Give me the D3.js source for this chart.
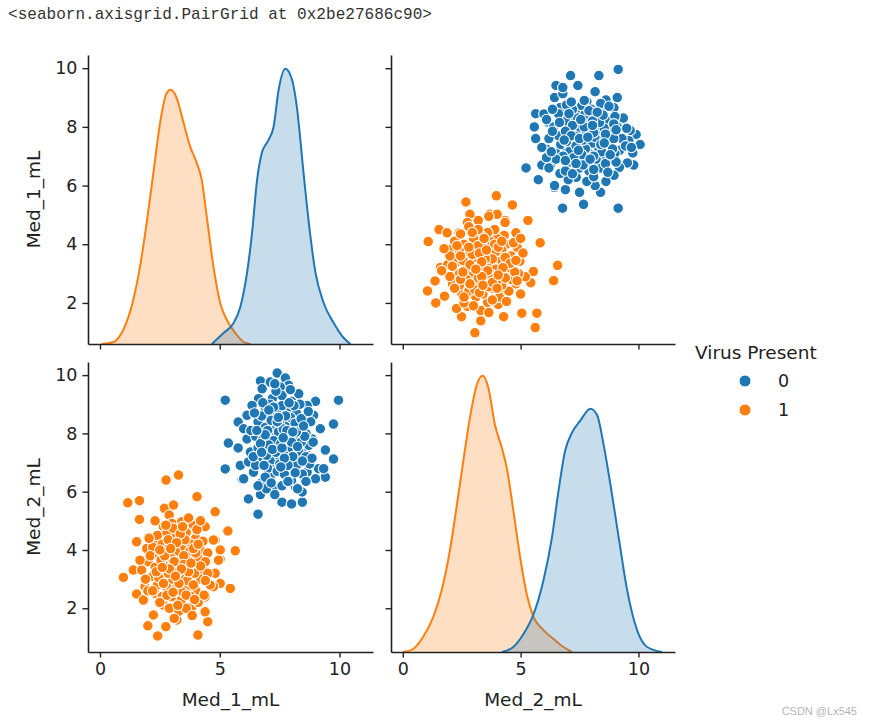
<!DOCTYPE html>
<html><head><meta charset="utf-8">
<script src="https://cdn.jsdelivr.net/npm/d3@7"></script>
<style>body{margin:0;background:#fff} svg{display:block}</style>
</head><body>
<svg id="c" width="871" height="725"></svg>
<script>
// ---------- data ----------
const variables = ["Med_1_mL", "Med_2_mL"];
const hueTitle = "Virus Present";
const hueLevels = ["0", "1"];
const hueColors = ["#1f77b4", "#ff7f0e"];
const xTickValues = [0, 5, 10];
const yTickValues = [2, 4, 6, 8, 10];
const reprText = "<seaborn.axisgrid.PairGrid at 0x2be27686c90>";
const watermark = "CSDN @Lx545";

// [Med_1_mL, Med_2_mL] per sample, Virus Present = 0
const virus0Points = [
 [5.23,9.14],[9.96,9.14],[9.0,9.1],[7.4,10.07],[6.7,9.8],[7.74,9.9],[5.77,8.39],[9.75,8.32],[5.36,7.67],[5.77,7.5],
 [5.23,6.78],[9.41,7.43],[9.75,7.12],[9.41,6.5],[6.2,5.75],[6.6,5.23],[7.6,5.64],[8.45,5.64],[8.0,5.58],[7.24,6.1],
 [6.7,5.9],[5.94,6.43],
 [5.86,6.9],[6.0,6.44],[6.69,6.27],[7.11,6.5],[8.16,6.16],[8.44,5.99],[9.0,6.44],[9.13,6.79],[8.65,6.67],[9.34,6.79],
 [9.2,8.16],[8.86,7.81],[8.92,8.62],[8.65,8.96],[8.3,9.36],[7.88,9.65],[7.53,9.59],[7.11,9.76],[6.77,9.53],[6.62,9.19],
 [6.35,8.96],[6.14,8.62],[6.0,8.16],[6.14,7.81],[6.28,7.36],[6.2,7.02],[6.41,6.67],[7.32,6.9],[7.74,7.02],[8.3,7.13],
 [8.58,7.36],[8.72,7.59],
 [6.9,8.9],[7.2,9.2],[7.6,9.3],[8.0,9.1],[7.0,8.6],[7.4,8.7],[7.8,8.8],[8.2,8.7],[8.5,8.5],[6.6,8.4],
 [6.9,8.2],[7.3,8.3],[7.6,8.4],[7.9,8.3],[8.3,8.2],[8.6,8.0],[6.5,7.9],[6.8,7.8],[7.1,7.9],[7.5,7.9],
 [7.8,7.7],[8.1,7.9],[8.4,7.7],[6.6,7.5],[7.0,7.4],[7.3,7.6],[7.7,7.4],[8.0,7.5],[8.3,7.4],[8.6,7.2],
 [6.8,7.1],[7.2,7.1],[7.5,7.2],[7.9,7.0],[8.2,6.9],[7.0,6.8],[7.4,6.7],[7.7,6.6],[8.0,6.4],[6.9,6.5],
 [7.6,6.2],[6.5,6.9],[8.8,8.4],[8.9,7.7],[6.3,8.1],[6.4,7.2],[7.15,8.45],[7.45,8.05],[7.65,8.15],[7.95,8.55],
 [8.15,8.35],[7.25,7.75],[7.55,7.65],[7.85,7.95],[8.05,7.2],[7.35,7.35],[7.05,7.6],[6.75,8.6],[7.6,8.95],[8.35,9.0],
 [8.7,8.75],[7.1,9.0],[6.8,9.05],[6.45,8.7],[8.45,6.6],[8.25,6.1],[6.95,6.1],[7.3,5.9],[7.85,6.9],[7.5,6.95],
 [6.6,6.2],[7.95,9.5],[7.35,9.45],[8.1,8.95],[8.55,7.9],[6.95,7.25],[7.7,7.15],[8.4,8.5],[7.25,8.9],[7.75,8.6],
 [6.7,7.65],[8.75,6.95],[8.6,6.35],
 [7.0,8.1],[7.4,8.4],[7.8,8.1],[8.2,8.05],[7.2,7.45],[7.6,7.5],[8.0,7.7],[6.9,7.95],[7.45,8.55],[7.9,9.05],
 [8.5,8.25],[8.25,7.55],[6.85,6.9],[7.55,6.85],[8.15,6.65],[7.15,6.3],[6.55,8.1],[8.85,7.15],[7.3,9.7],[8.05,8.05],
 [7.65,7.85],[7.05,8.8],[8.45,7.05],[6.75,7.35],[7.85,6.35]
];
// [Med_1_mL, Med_2_mL] per sample, Virus Present = 1
const virus1Points = [
 [2.76,6.4],[3.28,6.57],[1.16,5.62],[1.65,5.69],[1.65,5.05],[4.05,5.83],[4.81,5.31],[5.34,4.65],[5.65,3.97],[1.53,4.28],
 [0.98,3.06],[1.39,3.31],[1.53,2.49],[1.81,2.28],[2.23,1.77],[2.0,1.4],[2.41,1.05],[2.75,1.37],[4.09,1.08],[4.5,1.54],
 [5.44,2.68],[5.02,3.68],[4.81,4.34],[3.86,1.8],[3.21,1.6],[2.69,5.43],[3.07,5.54],[2.89,5.2],
 [4.74,4.34],[5.02,4.0],[4.95,3.65],[4.81,3.2],[5.02,2.85],[4.74,2.74],[4.39,2.39],[4.39,1.88],[3.84,2.05],[3.42,2.17],
 [2.65,2.11],[2.3,2.51],[1.88,2.74],[1.74,3.31],[2.02,3.6],[1.67,3.65],[1.95,4.05],[2.02,4.43],[2.44,4.34],[2.65,4.8],
 [3.0,4.91],[3.42,4.97],[3.9,4.85],[4.39,4.8],
 [2.4,4.5],[2.8,4.6],[3.2,4.5],[3.6,4.6],[4.0,4.4],[4.3,4.3],[2.2,4.1],[2.6,4.2],[3.0,4.2],[3.4,4.1],
 [3.8,4.2],[4.2,4.0],[4.5,3.9],[2.1,3.8],[2.5,3.8],[2.9,3.8],[3.3,3.8],[3.7,3.7],[4.1,3.7],[4.4,3.6],
 [2.3,3.4],[2.7,3.5],[3.1,3.4],[3.5,3.4],[3.9,3.4],[4.3,3.3],[2.2,3.1],[2.6,3.1],[3.0,3.0],[3.4,3.1],
 [3.8,3.0],[4.2,3.0],[4.5,3.2],[2.4,2.8],[2.8,2.7],[3.2,2.7],[3.6,2.7],[4.0,2.6],[2.6,2.4],[3.0,2.4],
 [3.4,2.3],[3.8,2.4],[4.1,2.2],[2.9,2.0],[3.3,1.9],[3.6,2.0],[2.0,2.6],[4.6,2.8],[2.55,3.65],[2.95,3.55],
 [3.35,3.6],[3.75,3.95],[3.15,3.95],[2.75,4.0],[3.55,4.35],[3.05,4.75],[3.95,3.2],[3.25,3.25],[2.85,3.2],[3.65,2.95],
 [3.45,2.55],[2.45,3.05],[4.05,4.7],[3.35,4.55],[2.65,2.85],[4.35,2.45],[3.85,1.75],[3.1,1.65],[2.5,2.2],[1.9,3.0],
 [2.05,4.4],[3.7,5.1],[4.2,5.0],[2.3,5.0],[3.0,3.7],[3.5,3.8],[4.0,3.9],[2.85,4.35],[3.25,2.1],[3.9,2.8],
 [2.7,3.8],[3.1,3.6],[3.5,3.5],[2.9,3.35],[3.3,2.85],[3.7,3.25],[2.5,4.0],[3.2,4.25],[3.9,4.05],[2.8,2.45],
 [3.6,2.45],[4.2,3.45],[2.35,3.25],[3.05,2.55],[3.45,4.8],[2.75,4.85],[4.1,4.2],[3.95,2.3],[2.2,2.6],[3.4,3.35],
 [3.8,3.55],[2.6,3.4],[4.4,2.95],[3.15,3.1],[2.95,4.05]
];

// KDE curves: grid values and density
const kdeMed1Virus0X = [4.67,5.16,5.58,5.86,6.14,6.35,6.56,6.76,7.04,7.25,7.46,7.74,8.02,8.22,8.5,8.72,9.0,9.34,9.76,10.18,10.46];
const kdeMed1Virus0Y = [0,0.011,0.021,0.037,0.071,0.111,0.164,0.191,0.204,0.217,0.254,0.275,0.264,0.237,0.171,0.121,0.071,0.041,0.021,0.006,0];
const kdeMed1Virus1X = [0.07,0.56,0.97,1.39,1.67,1.95,2.23,2.51,2.79,2.95,3.2,3.49,3.77,4.04,4.25,4.46,4.74,5.02,5.3,5.65,6.0,6.28];
const kdeMed1Virus1Y = [0,0.002,0.014,0.044,0.077,0.121,0.171,0.221,0.251,0.254,0.246,0.221,0.197,0.181,0.164,0.127,0.077,0.041,0.024,0.011,0.002,0];
const kdeMed2Virus0X = [4.2,4.69,5.12,5.55,5.97,6.33,6.61,6.89,7.18,7.53,7.96,8.24,8.52,8.81,9.16,9.52,9.94,10.37,11.0];
const kdeMed2Virus0Y = [0,0.005,0.018,0.038,0.072,0.115,0.162,0.202,0.22,0.232,0.244,0.238,0.208,0.168,0.115,0.062,0.022,0.005,0];
const kdeMed2Virus1X = [0.01,0.44,0.86,1.29,1.65,2.0,2.28,2.57,2.85,3.14,3.39,3.63,3.91,4.2,4.41,4.69,4.98,5.26,5.55,5.97,6.4,6.82,7.18];
const kdeMed2Virus1Y = [0,0.003,0.015,0.035,0.062,0.102,0.145,0.192,0.235,0.268,0.277,0.265,0.228,0.205,0.185,0.142,0.095,0.058,0.035,0.022,0.013,0.005,0];

// ---------- layout ----------
const FONT = "'DejaVu Sans', sans-serif";
const TEXT = "#222";
const cols = [{x0:88, x1:373, domain:[-0.5, 11.4]}, {x0:391, x1:675, domain:[-0.5, 11.55]}];
const rows = [{y0:55, y1:344, domain:[0.6, 10.45]}, {y0:362, y1:652, domain:[0.5, 10.45]}];
const xScales = cols.map(c => d3.scaleLinear().domain(c.domain).range([c.x0, c.x1]));
const yScales = rows.map(r => d3.scaleLinear().domain(r.domain).range([r.y1, r.y0]));

const svg = d3.select("#c");
svg.append("rect").attr("width", 871).attr("height", 725).attr("fill", "#fff");

svg.append("text").attr("x", 8).attr("y", 19)
  .attr("font-family", "'Liberation Mono', monospace").attr("font-size", 17)
  .attr("textLength", 424).attr("lengthAdjust", "spacingAndGlyphs")
  .attr("fill", "#333").text(reprText);

const kdes = [
  [{x:kdeMed1Virus0X, y:kdeMed1Virus0Y}, {x:kdeMed1Virus1X, y:kdeMed1Virus1Y}],
  [{x:kdeMed2Virus0X, y:kdeMed2Virus0Y}, {x:kdeMed2Virus1X, y:kdeMed2Virus1Y}]
];
const pointSets = [virus0Points, virus1Points];

function drawAxes(g, ri, ci) {
  const xa = d3.axisBottom(xScales[ci]).tickValues(xTickValues).tickSize(5.5).tickSizeOuter(0).tickPadding(5)
    .tickFormat(ri === 1 ? d3.format("d") : () => "");
  const ya = d3.axisLeft(yScales[ri]).tickValues(yTickValues).tickSize(5.5).tickSizeOuter(0).tickPadding(5)
    .tickFormat(ci === 0 ? d3.format("d") : () => "");
  const gx = g.append("g").attr("transform", `translate(0,${rows[ri].y1})`).call(xa);
  const gy = g.append("g").attr("transform", `translate(${cols[ci].x0},0)`).call(ya);
  [gx, gy].forEach(a => {
    a.select(".domain").attr("stroke", "#222").attr("stroke-width", 1.6);
    a.selectAll(".tick line").attr("stroke", "#222").attr("stroke-width", 1.4);
    a.selectAll(".tick text").attr("font-family", FONT).attr("font-size", 17.5).attr("fill", TEXT);
  });
}

for (let ri = 0; ri < 2; ri++) {
  for (let ci = 0; ci < 2; ci++) {
    const g = svg.append("g");
    if (ri === ci) {
      const curves = kdes[ri];
      const maxD = d3.max(curves, c => d3.max(c.y));
      const dy = d3.scaleLinear().domain([0, maxD * 1.05]).range([rows[ri].y1, rows[ri].y0]);
      const xs = xScales[ci];
      [1, 0].forEach(h => {
        const c = curves[h];
        const pts = c.x.map((v, i) => [v, c.y[i]]);
        const area = d3.area().x(d => xs(d[0])).y0(dy(0)).y1(d => dy(d[1])).curve(d3.curveMonotoneX);
        const line = d3.line().x(d => xs(d[0])).y(d => dy(d[1])).curve(d3.curveMonotoneX);
        g.append("path").attr("d", area(pts)).attr("fill", hueColors[h]).attr("fill-opacity", 0.25);
        g.append("path").attr("d", line(pts)).attr("fill", "none").attr("stroke", hueColors[h]).attr("stroke-width", 2);
      });
      drawAxes(g, ri, ci);
    } else {
      drawAxes(g, ri, ci);
      const xs = xScales[ci], ys = yScales[ri];
      [0, 1].forEach(h => {
        g.append("g").selectAll("circle").data(pointSets[h]).join("circle")
          .attr("cx", d => xs(d[ci])).attr("cy", d => ys(d[ri]))
          .attr("r", 5.3).attr("fill", hueColors[h])
          .attr("stroke", "#fff").attr("stroke-width", 1.1);
      });
    }
  }
}

// axis labels
variables.forEach((v, i) => {
  svg.append("text").attr("x", (cols[i].x0 + cols[i].x1) / 2).attr("y", 706)
    .attr("text-anchor", "middle").attr("font-family", FONT).attr("font-size", 18.5).attr("fill", TEXT).text(v);
  const cy = (rows[i].y0 + rows[i].y1) / 2;
  svg.append("text").attr("transform", `translate(40,${cy}) rotate(-90)`)
    .attr("text-anchor", "middle").attr("font-family", FONT).attr("font-size", 18.5).attr("fill", TEXT).text(v);
});

// legend
const lg = svg.append("g");
lg.append("text").attr("x", 695).attr("y", 359).attr("font-family", FONT).attr("font-size", 18.5).attr("fill", TEXT).text(hueTitle);
hueLevels.forEach((lv, i) => {
  const y = 381 + i * 29;
  lg.append("circle").attr("cx", 745).attr("cy", y).attr("r", 6).attr("fill", hueColors[i]).attr("stroke", "#fff").attr("stroke-width", 1);
  lg.append("text").attr("x", 778).attr("y", y + 6.3).attr("font-family", FONT).attr("font-size", 17.5).attr("fill", TEXT).text(lv);
});

svg.append("text").attr("x", 857).attr("y", 715).attr("text-anchor", "end")
  .attr("font-family", "'Liberation Sans', Arial, sans-serif").attr("font-size", 11).attr("fill", "#b5b5b5").text(watermark);
</script>
</body></html>
